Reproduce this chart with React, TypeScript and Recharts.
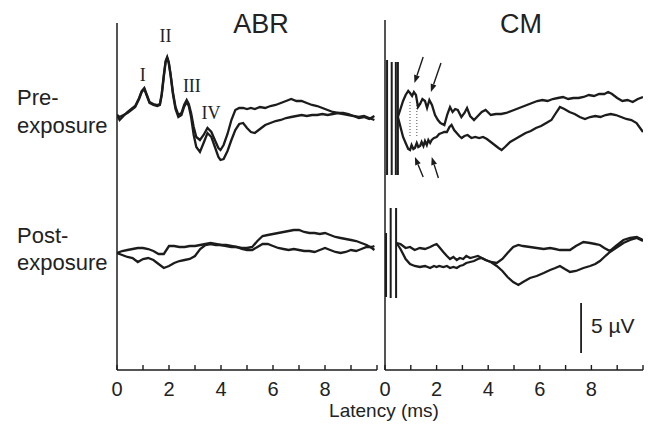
import React from 'react';
import { LineChart, Line, XAxis, YAxis, ReferenceLine, ReferenceDot } from 'recharts';

// latency ticks (ms)
const latencyTicks = [0, 1, 2, 3, 4, 5, 6, 7, 8, 9, 10];

// ABR, pre-exposure (µV, two traces share the time base)
const abrPreTime = [0, 0.1, 0.25, 0.4, 0.55, 0.7, 0.85, 0.95, 1.05, 1.15, 1.25, 1.4, 1.55, 1.65, 1.72, 1.8, 1.87, 1.93, 1.99, 2.06, 2.15, 2.25, 2.36, 2.48, 2.58, 2.68, 2.76, 2.85, 2.95, 3.05, 3.19, 3.33, 3.48, 3.63, 3.78, 3.9, 3.98, 4.1, 4.25, 4.4, 4.55, 4.7, 4.85, 5.0, 5.15, 5.3, 5.5, 5.7, 5.9, 6.1, 6.3, 6.5, 6.7, 6.9, 7.1, 7.3, 7.5, 7.7, 7.9, 8.1, 8.3, 8.5, 8.7, 8.9, 9.1, 9.3, 9.5, 9.7, 9.9];
const abrPreA = [0.2, -0.3, 0.1, 0.5, 0.8, 1.1, 1.9, 2.6, 2.9, 2.2, 1.5, 1.3, 1.2, 1.3, 2.3, 4.2, 5.6, 6.0, 5.5, 4.3, 2.5, 1.0, 0.2, 0.4, 1.2, 1.7, 1.3, 0.4, -1.0, -2.0, -2.3, -1.8, -1.1, -1.5, -2.4, -3.1, -3.3, -2.8, -1.7, -0.3, 0.7, 0.9, 0.9, 0.8, 0.9, 0.8, 1.0, 0.9, 1.1, 1.2, 1.4, 1.6, 1.8, 1.6, 1.6, 1.4, 1.2, 1.1, 0.9, 0.7, 0.5, 0.4, 0.3, 0.2, 0.1, -0.1, 0.0, -0.2, 0.1];
const abrPreB = [0.2, 0.0, 0.2, 0.4, 0.7, 1.0, 1.8, 2.5, 2.8, 2.1, 1.4, 1.2, 1.1, 1.2, 2.2, 4.0, 5.5, 5.9, 5.4, 4.2, 2.3, 0.8, 0.0, 0.2, 1.0, 1.5, 1.1, 0.0, -1.8, -3.0, -3.5, -2.6, -1.6, -2.0, -3.1, -4.0, -4.3, -4.2, -3.4, -2.3, -1.3, -0.7, -0.6, -1.1, -1.5, -1.6, -1.2, -0.8, -0.6, -0.4, -0.3, -0.1, 0.0, 0.1, 0.2, 0.1, 0.2, 0.2, 0.3, 0.2, 0.3, 0.4, 0.4, 0.3, 0.1, 0.0, 0.1, -0.1, -0.3];

// ABR, post-exposure
const abrPostTime = [0, 0.2, 0.4, 0.6, 0.8, 1.0, 1.2, 1.4, 1.6, 1.8, 2.0, 2.2, 2.4, 2.6, 2.8, 3.0, 3.2, 3.4, 3.6, 3.8, 4.0, 4.2, 4.4, 4.6, 4.8, 5.0, 5.2, 5.4, 5.6, 5.8, 6.0, 6.2, 6.4, 6.6, 6.8, 7.0, 7.2, 7.4, 7.6, 7.8, 8.0, 8.2, 8.4, 8.6, 8.8, 9.0, 9.2, 9.4, 9.6, 9.8, 9.9];
const abrPostA = [0, 0.2, 0.3, 0.4, 0.5, 0.5, 0.4, 0.2, -0.1, -0.1, 0.7, 0.7, 0.6, 0.6, 0.7, 0.7, 0.8, 0.9, 1.0, 0.9, 0.8, 0.8, 0.7, 0.6, 0.5, 0.5, 0.6, 1.2, 1.7, 1.8, 1.9, 2.0, 2.1, 2.2, 2.3, 2.3, 2.1, 2.0, 2.0, 1.9, 2.0, 1.8, 1.6, 1.5, 1.4, 1.3, 1.2, 1.0, 0.8, 0.5, 0.3];
const abrPostB = [0, -0.2, -0.4, -0.5, -0.9, -0.6, -0.5, -0.7, -1.1, -1.5, -1.3, -1.0, -0.8, -0.7, -0.6, -0.3, 0.4, 0.8, 0.9, 0.8, 0.8, 0.7, 0.6, 0.6, 0.4, 0.3, 0.3, 0.6, 0.9, 0.9, 0.7, 0.5, 0.4, 0.3, 0.4, 0.3, 0.2, 0.2, 0.1, 0.3, 0.5, 0.3, 0.1, 0.0, 0.1, 0.3, 0.2, 0.4, 0.6, 0.6, 0.7];

// CM, pre-exposure
const cmPreTimeA = [0.5, 0.6, 0.7, 0.8, 0.9, 0.97, 1.05, 1.12, 1.2, 1.28, 1.36, 1.45, 1.55, 1.63, 1.72, 1.82, 1.94, 2.05, 2.15, 2.3, 2.42, 2.52, 2.62, 2.72, 2.82, 2.96, 3.08, 3.18, 3.3, 3.45, 3.6, 3.75, 3.9, 4.1, 4.3, 4.5, 4.7, 4.9, 5.1, 5.3, 5.5, 5.7, 5.9, 6.1, 6.3, 6.5, 6.7, 6.9, 7.1, 7.3, 7.5, 7.7, 7.9, 8.1, 8.3, 8.5, 8.65, 8.8, 9.0, 9.2, 9.4, 9.6, 9.8, 10];
const cmPreA = [0.0, 0.8, 1.6, 2.2, 2.6, 2.4, 2.1, 2.5, 2.2, 1.0, 1.3, 1.8, 1.6, 0.9, 1.7, 1.2, 0.2, -0.3, -0.6, -0.8, 0.3, 1.0, 0.5, 0.8, 0.7, 0.0, 0.4, 0.9, 0.1, -0.3, 0.1, 0.5, 0.7, 0.2, 0.3, 0.3, 0.4, 0.6, 0.8, 1.0, 1.2, 1.4, 1.6, 1.7, 1.6, 1.8, 1.9, 2.0, 1.8, 1.9, 1.9, 2.0, 2.2, 2.1, 2.3, 2.3, 2.5, 2.3, 1.9, 1.6, 1.7, 1.5, 1.8, 2.0];
const cmPreTimeB = [0.5, 0.6, 0.7, 0.8, 0.9, 0.97, 1.03, 1.1, 1.16, 1.23, 1.29, 1.36, 1.42, 1.49, 1.55, 1.62, 1.68, 1.75, 1.81, 1.9, 2.0, 2.1, 2.2, 2.3, 2.4, 2.5, 2.58, 2.68, 2.78, 2.88, 2.97, 3.08, 3.2, 3.35, 3.5, 3.65, 3.8, 3.95, 4.1, 4.25, 4.4, 4.52, 4.65, 4.85, 5.05, 5.25, 5.45, 5.65, 5.85, 6.05, 6.25, 6.45, 6.6, 6.78, 6.95, 7.15, 7.35, 7.55, 7.75, 7.95, 8.15, 8.35, 8.55, 8.75, 8.95, 9.15, 9.35, 9.55, 9.75, 10];
const cmPreB = [0.0, -1.0, -2.0, -2.6, -3.2, -3.3, -2.8, -3.2, -3.1, -2.6, -3.0, -2.9, -2.5, -2.9, -2.4, -2.8, -2.3, -2.6, -2.3, -2.1, -2.0, -1.7, -1.6, -1.5, -1.5, -1.0, -0.8, -1.3, -1.6, -1.9, -2.1, -1.9, -1.8, -2.1, -2.0, -2.1, -2.0, -2.2, -2.5, -2.8, -3.1, -3.3, -3.0, -2.5, -2.2, -1.9, -1.6, -1.4, -1.1, -0.9, -0.6, -0.3, 0.3, 1.0, 0.8, 0.5, 0.3, 0.0, -0.2, 0.0, 0.1, 0.0, 0.2, 0.3, 0.2, 0.0, -0.2, -0.3, -0.6, -1.5];

// CM, post-exposure
const cmPostTime = [0.45, 0.6, 0.8, 0.97, 1.15, 1.35, 1.55, 1.75, 1.9, 2.0, 2.1, 2.26, 2.4, 2.52, 2.65, 2.78, 2.9, 3.03, 3.15, 3.3, 3.45, 3.6, 3.75, 3.9, 4.1, 4.33, 4.55, 4.75, 4.97, 5.17, 5.35, 5.62, 5.88, 6.15, 6.4, 6.6, 6.78, 6.97, 7.17, 7.4, 7.69, 7.95, 8.15, 8.33, 8.5, 8.72, 8.95, 9.24, 9.5, 9.76, 10];
const cmPostA = [1.0, 0.9, 0.5, 0.6, 0.3, 0.5, 0.4, 0.6, 0.8, 0.9, 0.6, 0.1, -0.3, -0.6, -0.4, -0.7, -0.5, -0.6, -0.3, -0.5, -0.4, -0.3, -0.5, -0.7, -0.9, -1.3, -1.8, -2.4, -2.9, -3.2, -2.9, -2.5, -2.3, -2.0, -1.7, -1.5, -1.3, -1.6, -1.9, -1.8, -1.5, -1.3, -1.1, -0.8, -0.4, 0.1, 0.5, 1.0, 1.3, 1.5, 1.2];
const cmPostB = [1.0, 0.4, -0.6, -1.1, -1.3, -1.4, -1.3, -1.5, -1.3, -1.4, -1.3, -1.4, -1.3, -1.5, -1.4, -1.5, -1.3, -1.2, -1.0, -0.9, -0.8, -0.6, -0.5, -0.7, -0.9, -1.0, -0.6, 0.0, 0.6, 0.8, 0.7, 0.6, 0.5, 0.4, 0.5, 0.4, 0.3, 0.3, 0.3, 0.7, 1.1, 1.0, 0.9, 0.8, 0.5, 0.2, 0.7, 1.3, 1.5, 1.6, 1.3];

// stimulus artefact in the CM records
const artPreT = [0.08, 0.26, 0.42, 0.5];
const artPreTop = [5.7, 5.5, 5.5, 5.5];
const artPreBottom = [-5.8, -5.8, -5.8, -5.8];
const artPostT = [0.04, 0.22, 0.43];
const artPostTop = [2.0, 4.5, 4.5];
const artPostBottom = [-4.4, -4.5, -4.5];

// dotted markers and arrows on pre-exposure CM
const dotT = [0.97, 1.23];
const dotTop = 1.5;
const dotBottom = -2.1;
const arrowFromT = [1.48, 2.17, 1.48, 2.07];
const arrowFromV = [6.0, 5.4, -6.0, -6.1];
const arrowToT = [1.14, 1.78, 1.16, 1.81];
const arrowToV = [3.4, 2.5, -4.0, -4.0];

// ABR wave labels
const waveNames = ['I', 'II', 'III', 'IV'];
const waveT = [0.99, 1.87, 2.88, 3.62];
const waveV = [4.2, 8.1, 3.1, 0.4];

// scale bar (µV)
const scaleT = 7.6;
const scaleFrom = 1.7;
const scaleLen = 5;

// vertical placement of the two records (µV above the x axis)
const PRE = 25.3;
const POST = 11.7;
const TICK_LEN = 0.5;
const FLOOR = -0.6; // a little room below the axis so it sits inside the plot

const rows = (ts: number[], vs: number[], off: number) => ts.map((t, i) => ({ t, v: vs[i] + off }));

const INK = '#1c1c1c';
const FONT = '"Liberation Sans", Arial, sans-serif';

const AxisLabel = (props: any) => {
  const { x, y, payload } = props;
  const v = payload.value;
  if (v % 2 !== 0 || v >= 10) return <g />;
  return (
    <text x={x} y={y + 20} textAnchor="middle" fontSize={20} fontFamily={FONT} fill="#222">
      {v}
    </text>
  );
};

const Arrow = (p: any) => {
  const { x1, y1, x2, y2 } = p;
  const a = Math.atan2(y2 - y1, x2 - x1);
  const bx = x2 - 8 * Math.cos(a);
  const by = y2 - 8 * Math.sin(a);
  const px = -Math.sin(a) * 3;
  const py = Math.cos(a) * 3;
  return (
    <g>
      <line x1={x1} y1={y1} x2={bx} y2={by} stroke={INK} strokeWidth={1.4} />
      <polygon points={`${x2},${y2} ${bx + px},${by + py} ${bx - px},${by - py}`} fill={INK} />
    </g>
  );
};

const trace = (key: string, data: any[], width = 2.3) => (
  <Line
    key={key}
    data={data}
    dataKey="v"
    type="linear"
    stroke={INK}
    strokeWidth={width}
    dot={false}
    isAnimationActive={false}
  />
);

const frame = (top: number) => [
  <XAxis
    key="x"
    dataKey="t"
    type="number"
    domain={[0, 10]}
    ticks={latencyTicks}
    interval={0}
    allowDataOverflow
    height={30}
    tickSize={0}
    tickMargin={0}
    tickLine={false}
    axisLine={false}
    tick={<AxisLabel />}
  />,
  <YAxis key="y" type="number" domain={[FLOOR, top]} hide allowDataOverflow />,
  <ReferenceLine key="yl" segment={[{ x: 0, y: 0 }, { x: 0, y: top }]} stroke={INK} strokeWidth={1.5} />,
  <ReferenceLine key="xl" y={0} stroke={INK} strokeWidth={1.5} />,
  ...latencyTicks.map((t) => (
    <ReferenceLine
      key={'tk' + t}
      segment={[{ x: t, y: 0 }, { x: t, y: TICK_LEN }]}
      stroke={INK}
      strokeWidth={1.4}
    />
  )),
];

export default function App() {
  return (
    <div style={{ position: 'absolute', left: 0, top: 0, width: 653, height: 429, background: '#fff', fontFamily: FONT }}>
      {/* ABR panel */}
      <div style={{ position: 'absolute', left: 0, top: 0 }}>
        <LineChart width={390} height={429} margin={{ top: 23, right: 13, bottom: 23, left: 117 }}>
          {frame(34.7)}
          {trace('preA', rows(abrPreTime, abrPreA, PRE))}
          {trace('preB', rows(abrPreTime, abrPreB, PRE))}
          {trace('postA', rows(abrPostTime, abrPostA, POST))}
          {trace('postB', rows(abrPostTime, abrPostB, POST))}
          {waveNames.map((n, i) => (
            <ReferenceDot
              key={n}
              x={waveT[i]}
              y={waveV[i] + PRE}
              r={0}
              stroke="none"
              label={{ value: n, position: 'center', fontSize: 18, fontFamily: '"Liberation Serif", serif', fill: '#222' }}
            />
          ))}
        </LineChart>
      </div>

      {/* CM panel */}
      <div style={{ position: 'absolute', left: 0, top: 0 }}>
        <LineChart width={653} height={429} margin={{ top: 20, right: 10, bottom: 23, left: 385 }}>
          {frame(35)}
          {artPreT.map((t, i) => (
            <ReferenceLine key={'ap' + i} segment={[{ x: t, y: artPreTop[i] + PRE }, { x: t, y: artPreBottom[i] + PRE }]} stroke={INK} strokeWidth={2} />
          ))}
          {artPostT.map((t, i) => (
            <ReferenceLine key={'aq' + i} segment={[{ x: t, y: artPostTop[i] + POST }, { x: t, y: artPostBottom[i] + POST }]} stroke={INK} strokeWidth={2} />
          ))}
          {dotT.map((t, i) => (
            <ReferenceLine key={'d' + i} segment={[{ x: t, y: dotTop + PRE }, { x: t, y: dotBottom + PRE }]} stroke="#888" strokeWidth={1.5} strokeDasharray="1 2" />
          ))}
          {trace('cpreA', rows(cmPreTimeA, cmPreA, PRE))}
          {trace('cpreB', rows(cmPreTimeB, cmPreB, PRE))}
          {trace('cpostA', rows(cmPostTime, cmPostA, POST))}
          {trace('cpostB', rows(cmPostTime, cmPostB, POST))}
          {arrowFromT.map((t, i) => (
            <ReferenceLine
              key={'ar' + i}
              segment={[{ x: t, y: arrowFromV[i] + PRE }, { x: arrowToT[i], y: arrowToV[i] + PRE }]}
              shape={<Arrow />}
            />
          ))}
          <ReferenceLine segment={[{ x: scaleT, y: scaleFrom }, { x: scaleT, y: scaleFrom + scaleLen }]} stroke={INK} strokeWidth={1.8} />
        </LineChart>
      </div>

      {/* titles and labels */}
      <svg width={653} height={429} style={{ position: 'absolute', left: 0, top: 0, pointerEvents: 'none' }}>
        <g fontFamily={FONT} fill="#222">
          <text x={261} y={33} fontSize={27} textAnchor="middle">ABR</text>
          <text x={521} y={33} fontSize={27} textAnchor="middle">CM</text>
          <text x={17} y={105} fontSize={22}>Pre-</text>
          <text x={17} y={133} fontSize={22}>exposure</text>
          <text x={17} y={243} fontSize={22}>Post-</text>
          <text x={17} y={270} fontSize={22}>exposure</text>
          <text x={591} y={333} fontSize={21}>5 µV</text>
          <text x={384} y={417} fontSize={19} textAnchor="middle">Latency (ms)</text>
        </g>
      </svg>
    </div>
  );
}
